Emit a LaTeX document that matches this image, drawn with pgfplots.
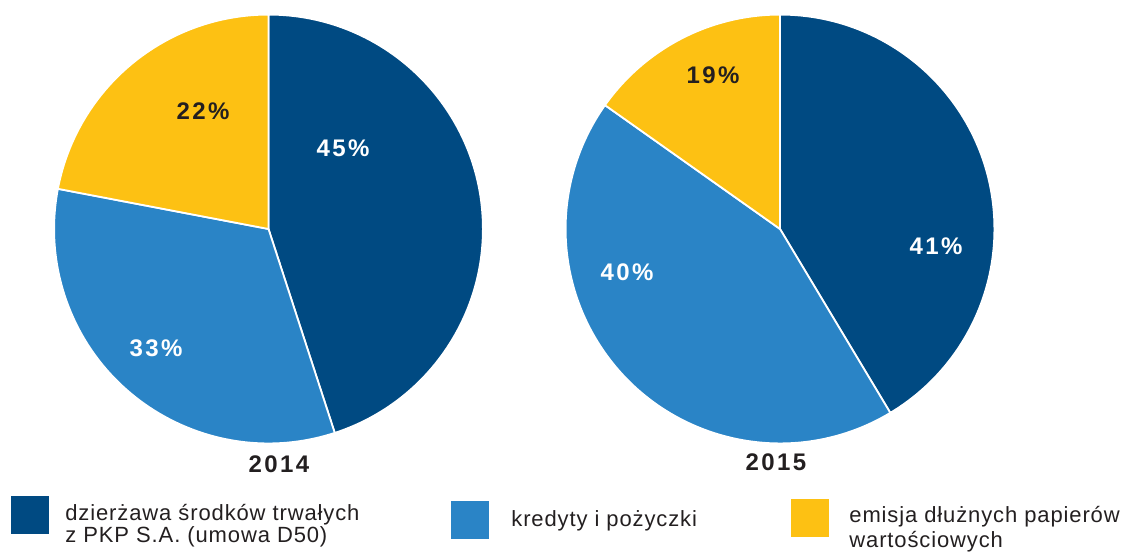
\documentclass[border=0pt]{standalone}
\usepackage{fontspec}
\setmainfont{Liberation Sans}
\usepackage{pgfplots}
\pgfplotsset{compat=1.18}
\definecolor{cdark}{HTML}{004A82}
\definecolor{clight}{HTML}{2A84C6}
\definecolor{cyel}{HTML}{FDC113}
\definecolor{ctext}{HTML}{231F20}
\newcommand{\tightlines}{\lineskiplimit=-20pt\relax\lineskip=0pt\relax}
% pie data (shares in percent, as drawn)
\def\pieA{45,33,22}
\def\pieB{41.4,43.4,15.2}
% draw a pie: #1 cx, #2 cy (axis units), #3 list macro of values
\newcommand{\drawpie}[3]{%
  \gdef\cumangle{90}%
  \foreach \v [count=\i] in #3 {%
    \pgfmathsetmacro{\sA}{\cumangle}%
    \pgfmathsetmacro{\sB}{\cumangle-3.6*\v}%
    \ifcase\i\or\def\col{cdark}\or\def\col{clight}\or\def\col{cyel}\fi
    \edef\tmp{\noexpand\fill[\col, draw=white, line width=0.9pt, line join=round]
      (axis cs:#1,#2) -- ++(\sA:107.2pt) arc[start angle=\sA, end angle=\sB, radius=107.2pt] -- cycle;}%
    \tmp
    \global\let\cumangle\sB
  }%
}
\begin{document}
\begin{tikzpicture}
\begin{axis}[
  scale only axis, width=563.5pt, height=275.5pt,
  xmin=0, xmax=1127, ymin=0, ymax=551,
  hide axis, clip=false]
\coordinate (BL) at (axis cs:0,0);
\coordinate (TR) at (axis cs:1127,551);
\drawpie{268.5}{322}{\pieA}
\drawpie{780}{322}{\pieB}
% value labels
\begin{scope}[every node/.style={font=\bfseries\fontsize{12}{14}\selectfont\addfontfeatures{LetterSpace=10}}]
\node[white] at (axis cs:343,403) {45\%};
\node[ctext] at (axis cs:203,440) {22\%};
\node[white] at (axis cs:156,203) {33\%};
\node[white] at (axis cs:936,305) {41\%};
\node[white] at (axis cs:627,279) {40\%};
\node[ctext] at (axis cs:713,476) {19\%};
\node[ctext, anchor=base] at (axis cs:279,79) {2014};
\node[ctext, anchor=base] at (axis cs:776,81) {2015};
\end{scope}
% legend
\fill[cdark] (axis cs:11,17) rectangle (axis cs:49,55);
\fill[clight] (axis cs:451,12) rectangle (axis cs:489,50);
\fill[cyel] (axis cs:791,14) rectangle (axis cs:829,52);
\begin{scope}[every node/.style={text=ctext, inner sep=0pt, align=left}]
\node[anchor=base west, font=\fontsize{11}{11}\selectfont\tightlines\addfontfeatures{LetterSpace=4}] at (axis cs:65,9) {dzierżawa środków trwałych\\z PKP S.A. (umowa D50)};
\node[anchor=base west, font=\fontsize{11}{12}\selectfont\addfontfeatures{LetterSpace=4}] at (axis cs:511,25) {kredyty i pożyczki};
\node[anchor=base west, font=\fontsize{11}{12.5}\selectfont\tightlines\addfontfeatures{LetterSpace=4}] at (axis cs:849,4) {emisja dłużnych papierów\\wartościowych};
\end{scope}
\end{axis}
\pgfresetboundingbox
\useasboundingbox (BL) rectangle (TR);
\end{tikzpicture}
\end{document}
